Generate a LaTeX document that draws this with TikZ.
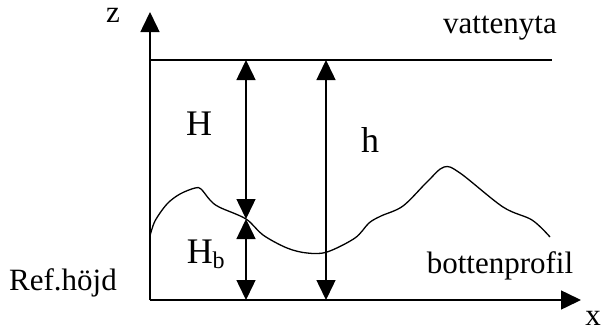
\documentclass[tikz,border=0pt]{standalone}
\usepackage{fontspec}
\setmainfont{Liberation Serif}
\usetikzlibrary{arrows.meta}
\begin{document}
\begin{tikzpicture}[x=1pt,y=-1pt,
  line width=1.5pt,
  tip/.style={-{Triangle[length=20pt,width=19pt]}},
  tips/.style={{Triangle[length=20pt,width=19pt]}-{Triangle[length=20pt,width=19pt]}},
  small/.style={inner sep=0pt,anchor=base,font=\fontsize{31}{31}\selectfont},
  big/.style={inner sep=0pt,anchor=base,font=\fontsize{36}{36}\selectfont}]
\useasboundingbox (0,0) rectangle (603,332);
% axes
\coordinate (O) at (150,300);
\coordinate (Z) at (150,12);
\coordinate (X) at (581,300);
\draw[tip] (O) -- (Z);
\draw[tip] (O) -- (X);
% water surface
\coordinate (W1) at (150,60);
\coordinate (W2) at (552,60);
\draw (W1) -- (W2);
% bottom profile
\draw[line width=1.3pt] plot[smooth,tension=0.55] coordinates {
 (150,236) (155,221) (167,204) (180,194) (195,188) (201,189) (210,200) (219,207)
 (246,219) (263,235) (287,248) (307,253) (327,252) (355,238) (369,223) (381,216)
 (403,206) (427,182) (444,167) (460,173) (503,207) (532,220) (550,237)};
% arrows
\coordinate (A1) at (246,60);
\coordinate (P) at (246,219);
\coordinate (A2) at (246,300);
\coordinate (B1) at (326,60);
\coordinate (B2) at (326,300);
\draw[tips] (A1) -- (P);
\draw[tips] (P) -- (A2);
\draw[tips] (B1) -- (B2);
% labels
\node[small] (lz) at (113,23) {z};
\node[small] (lx) at (593,325) {x};
\node[small] (lv) at (500,33) {vattenyta};
\node[small] (lb) at (500,273) {bottenprofil};
\node[small] (lr) at (63,290) {Ref.höjd};
\node[big] (lH) at (199,135) {H};
\node[big] (lh) at (370,152) {h};
\node[big,anchor=base west] (lHb) at (186,263) {H\raisebox{-5pt}{\fontsize{24}{24}\selectfont b}};
\end{tikzpicture}
\end{document}
